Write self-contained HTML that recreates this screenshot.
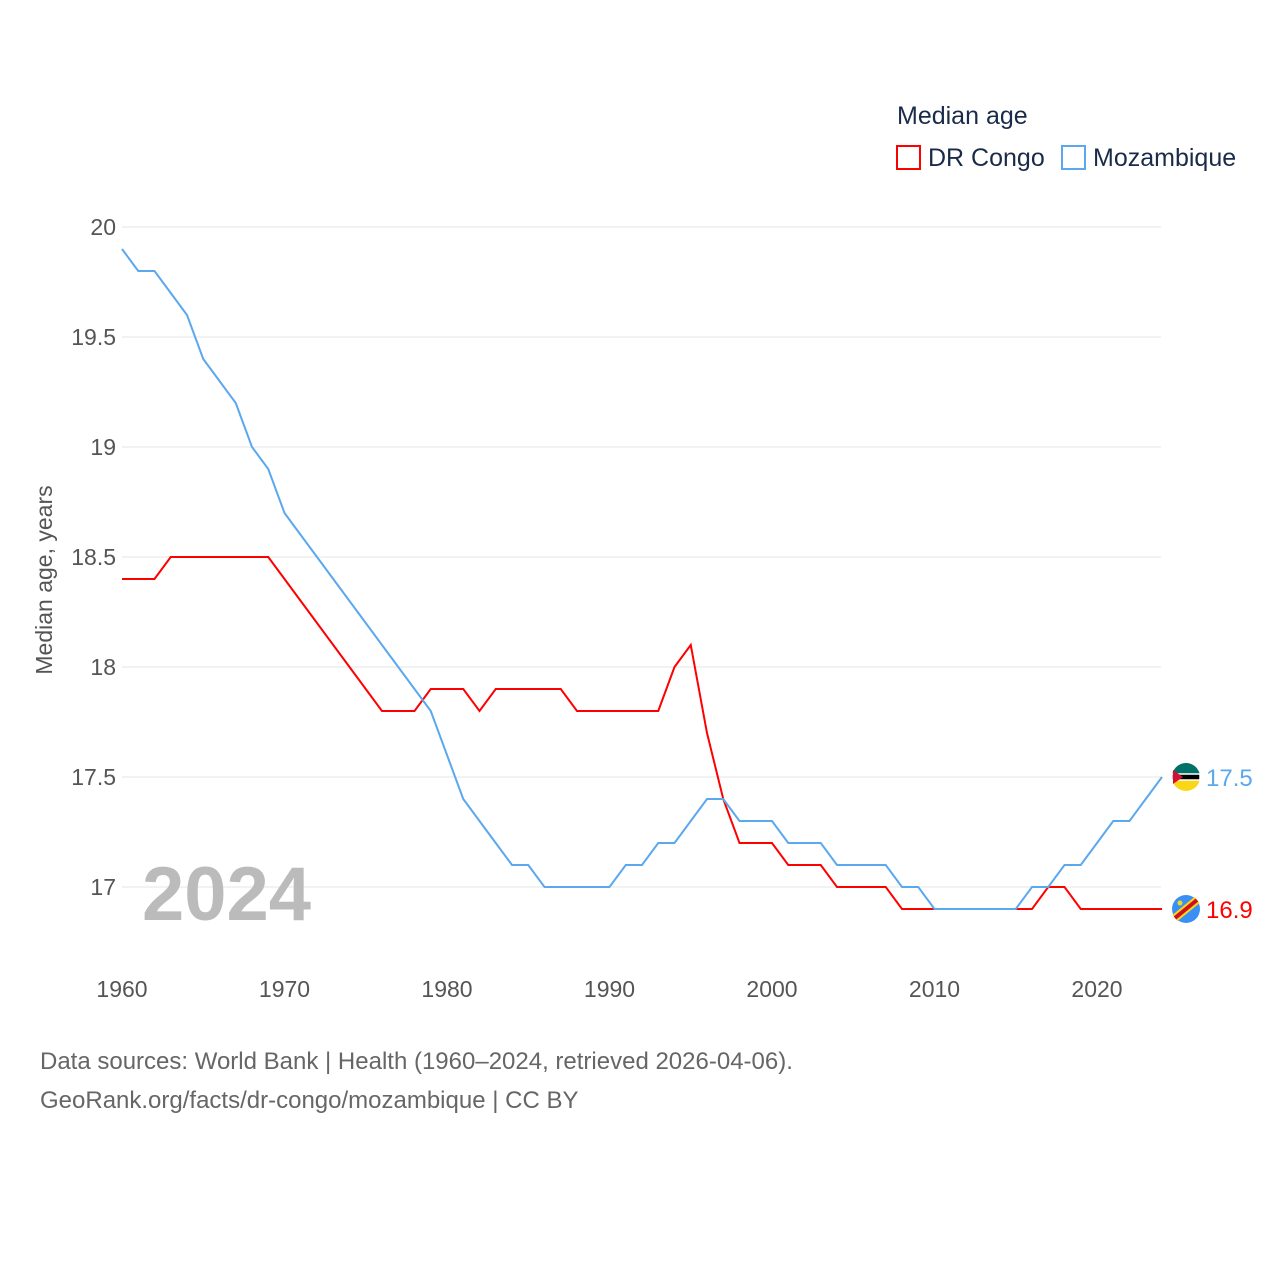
<!DOCTYPE html>
<html><head><meta charset="utf-8"><style>
body{margin:0;background:#fff;}
svg text{font-family:"Liberation Sans",sans-serif;}
</style></head><body>
<svg width="1280" height="1280" viewBox="0 0 1280 1280" xmlns="http://www.w3.org/2000/svg">
<g id="grid"></g>
<g id="yt"></g>
<g id="xt"></g>
<text x="52" y="580" transform="rotate(-90 52 580)" text-anchor="middle" font-size="23" fill="#555">Median age, years</text>
<text x="142" y="920" font-size="76" font-weight="bold" fill="#bbb">2024</text>
<g id="lines"></g>
<text x="897" y="124" font-size="25" fill="#1a2b4a">Median age</text>
<g><rect x="897" y="146" width="23" height="23" fill="none" stroke="#f00" stroke-width="2"/><text x="928" y="166" font-size="25" fill="#1a2b4a">DR Congo</text></g>
<g><rect x="1062" y="146" width="23" height="23" fill="none" stroke="#5ba8ef" stroke-width="2"/><text x="1093" y="166" font-size="25" fill="#1a2b4a">Mozambique</text></g>
<text x="40" y="1069" font-size="24" fill="#666">Data sources: World Bank | Health (1960–2024, retrieved 2026-04-06).</text>
<text x="40" y="1108" font-size="24" fill="#666">GeoRank.org/facts/dr-congo/mozambique | CC BY</text>
</svg>
<script>
const years=[];for(let y=1960;y<=2024;y++)years.push(y);
const drc=[18.4,18.4,18.4,18.5,18.5,18.5,18.5,18.5,18.5,18.5,18.4,18.3,18.2,18.1,18.0,17.9,17.8,17.8,17.8,17.9,17.9,17.9,17.8,17.9,17.9,17.9,17.9,17.9,17.8,17.8,17.8,17.8,17.8,17.8,18.0,18.1,17.7,17.4,17.2,17.2,17.2,17.1,17.1,17.1,17.0,17.0,17.0,17.0,16.9,16.9,16.9,16.9,16.9,16.9,16.9,16.9,16.9,17.0,17.0,16.9,16.9,16.9,16.9,16.9,16.9];
const moz=[19.9,19.8,19.8,19.7,19.6,19.4,19.3,19.2,19.0,18.9,18.7,18.6,18.5,18.4,18.3,18.2,18.1,18.0,17.9,17.8,17.6,17.4,17.3,17.2,17.1,17.1,17.0,17.0,17.0,17.0,17.0,17.1,17.1,17.2,17.2,17.3,17.4,17.4,17.3,17.3,17.3,17.2,17.2,17.2,17.1,17.1,17.1,17.1,17.0,17.0,16.9,16.9,16.9,16.9,16.9,16.9,17.0,17.0,17.1,17.1,17.2,17.3,17.3,17.4,17.5];
const yTicks=[17,17.5,18,18.5,19,19.5,20];
const xTicks=[1960,1970,1980,1990,2000,2010,2020];
const NS="http://www.w3.org/2000/svg";
const X=y=>122+(y-1960)*16.25, Y=v=>887-(v-17)*220;
function mk(t,a,p){const e=document.createElementNS(NS,t);for(const k in a)e.setAttribute(k,a[k]);p.appendChild(e);return e;}
const g=document.getElementById('grid'),yt=document.getElementById('yt'),xt=document.getElementById('xt'),L=document.getElementById('lines');
yTicks.forEach(v=>{const l=mk('line',{x1:122,x2:1161,y1:Y(v),y2:Y(v),stroke:'#e6e6e6'},g);


const t=mk('text',{x:116,y:Y(v)+8,'text-anchor':'end','font-size':23,fill:'#555'},yt);t.textContent=String(v);

});
xTicks.forEach(v=>{const t=mk('text',{x:X(v),y:997,'text-anchor':'middle','font-size':23,fill:'#555'},xt);t.textContent=v;

});
function line(d,c,name){const p=mk('polyline',{points:d.map((v,i)=>X(years[i])+','+Y(v)).join(' '),fill:'none',stroke:c,'stroke-width':2},L);

}
line(drc,'#f00','dr-congo-line');line(moz,'#5ba8ef','mozambique-line');
function end(d,c,name,fl){const v=d[d.length-1],x=X(2024)+24,y=Y(v);
const g2=mk('g',{},L);
if(fl==='moz'){mk('circle',{cx:x,cy:y,r:14,fill:'#f9d616'},g2);mk('path',{d:`M${x-14} ${y} A14 14 0 0 1 ${x+14} ${y}Z`,fill:'#007168'},g2);mk('rect',{x:x-14,y:y-3,width:28,height:6,fill:'#000',stroke:'#fff','stroke-width':1.5},g2);mk('path',{d:`M${x-13} ${y-7} L${x-3} ${y} L${x-13} ${y+7}Z`,fill:'#d21034'},g2);}
else{mk('circle',{cx:x,cy:y,r:14,fill:'#3a8ff5'},g2);mk('line',{x1:x-11,y1:y+9,x2:x+11,y2:y-9,stroke:'#f7d618','stroke-width':8},g2);mk('line',{x1:x-11,y1:y+9,x2:x+11,y2:y-9,stroke:'#ce1021','stroke-width':4},g2);mk('circle',{cx:x-6,cy:y-6,r:2.5,fill:'#f7d618'},g2);}
const t=mk('text',{x:x+20,y:y+9,'font-size':24,fill:c},g2);t.textContent=v.toFixed(1);}
end(moz,'#5ba8ef','mozambique-end-label','moz');end(drc,'#f00','dr-congo-end-label','drc');
</script></body></html>
